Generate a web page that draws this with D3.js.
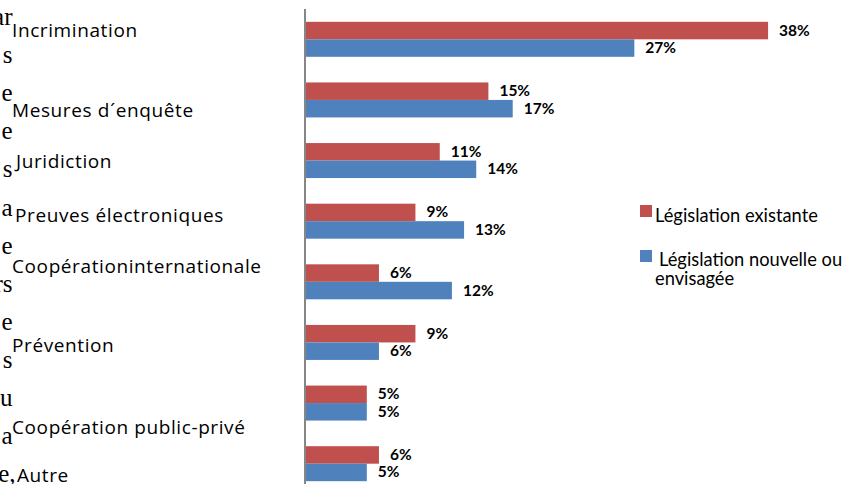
<!DOCTYPE html>
<html lang="fr">
<head>
<meta charset="utf-8">
<script src="https://cdn.jsdelivr.net/npm/d3@7"></script>
<style>
  html, body { margin: 0; padding: 0; background: #fff; }
  svg { display: block; }
</style>
</head>
<body>
<svg id="chart" width="851" height="484"></svg>
<script>
// Domaines législatifs couverts (part des réponses, %)
const categories = [
  "Incrimination",
  "Mesures d´enquête",
  "Juridiction",
  "Preuves électroniques",
  "Coopérationinternationale",
  "Prévention",
  "Coopération public-privé",
  "Autre"
];
const existante = [38, 15, 11, 9, 6, 9, 5, 6];
const nouvelle  = [27, 17, 14, 13, 12, 6, 5, 5];
const seriesNames = ["Législation existante", "Législation nouvelle ou envisagée"];

// Fragments of the surrounding page text along the left margin
const marginText = ["ar", "s", "e", "e", "s", "a", "e", "rs", "e", "s", "u", "a", "e,"];

// Layout
const W = 851, H = 484;
const plot = { left: 306, right: 792.4, top: 9, bottom: 494 };
const colors = ["#C0504D", "#4F81BD"];
// per-row offsets of the category text from its band centre [dx, dy]
const labelNudge = [[0, -2], [0, 17], [4, 7.5], [3, 1], [0, -9], [0, 10], [0, 31], [5, 18.5]];

const svg = d3.select("#chart");

const x = d3.scaleLinear().domain([0, 40]).range([plot.left, plot.right]);
const y = d3.scaleBand().domain(categories).range([plot.top, plot.bottom])
  .paddingInner(0.423).paddingOuter(0.2115);
const ySub = d3.scaleBand().domain([0, 1]).range([0, y.bandwidth()]);

const rows = categories.map((c, i) => ({ cat: c, vals: [existante[i], nouvelle[i]] }));

// Bars
const g = svg.append("g");
const groups = g.selectAll("g.row").data(rows).join("g")
  .attr("class", "row")
  .attr("transform", d => `translate(0,${y(d.cat)})`);

groups.selectAll("rect").data(d => d.vals.map((v, k) => ({ v, k }))).join("rect")
  .attr("x", x(0))
  .attr("y", d => ySub(d.k))
  .attr("width", d => x(d.v) - x(0))
  .attr("height", ySub.bandwidth())
  .attr("fill", d => colors[d.k]);

// Value labels
groups.selectAll("text.val").data(d => d.vals.map((v, k) => ({ v, k }))).join("text")
  .attr("class", "val")
  .attr("x", d => x(d.v) + 11)
  .attr("y", d => ySub(d.k) + ySub.bandwidth() / 2 + 1)
  .attr("dominant-baseline", "middle")
  .attr("font-family", "Lato, 'Open Sans', sans-serif")
  .attr("font-weight", "bold")
  .attr("font-size", 15.5)
  .attr("fill", "#000")
  .text(d => d.v + "%");

// Category axis line
svg.append("line")
  .attr("x1", plot.left - 1).attr("x2", plot.left - 1)
  .attr("y1", plot.top).attr("y2", plot.bottom)
  .attr("stroke", "#868686").attr("stroke-width", 2);

// Margin fragments
svg.append("g").selectAll("text").data(marginText).join("text")
  .attr("x", d => d === "e," ? 15.5 : 12.5)
  .attr("y", (d, i) => 25 + i * 38.1)
  .attr("text-anchor", "end")
  .attr("font-family", "'Liberation Serif', 'DejaVu Serif', serif")
  .attr("font-size", 25)
  .attr("fill", "#000")
  .text(d => d);

// Category labels
svg.append("g").selectAll("text").data(categories).join("text")
  .attr("x", (d, i) => 12 + labelNudge[i][0])
  .attr("y", (d, i) => y(d) + y.bandwidth() / 2 + labelNudge[i][1])
  .attr("font-family", "'Open Sans', sans-serif")
  .attr("font-size", 19)
  .attr("letter-spacing", 0.6)
  .attr("fill", "#000")
  .text(d => d);

// Legend
const legend = svg.append("g").attr("font-family", "Lato, 'Open Sans', sans-serif")
  .attr("font-size", 18.3).attr("fill", "#000");
legend.append("rect").attr("x", 640).attr("y", 205).attr("width", 12).attr("height", 12).attr("fill", colors[0]);
legend.append("text").attr("x", 655).attr("y", 222).text(seriesNames[0]);
legend.append("rect").attr("x", 640).attr("y", 250).attr("width", 12).attr("height", 12).attr("fill", colors[1]);
const t2 = legend.append("text").attr("x", 659).attr("y", 266);
t2.append("tspan").text("Législation nouvelle ou");
t2.append("tspan").attr("x", 655).attr("y", 285).text("envisagée");
</script>
</body>
</html>
